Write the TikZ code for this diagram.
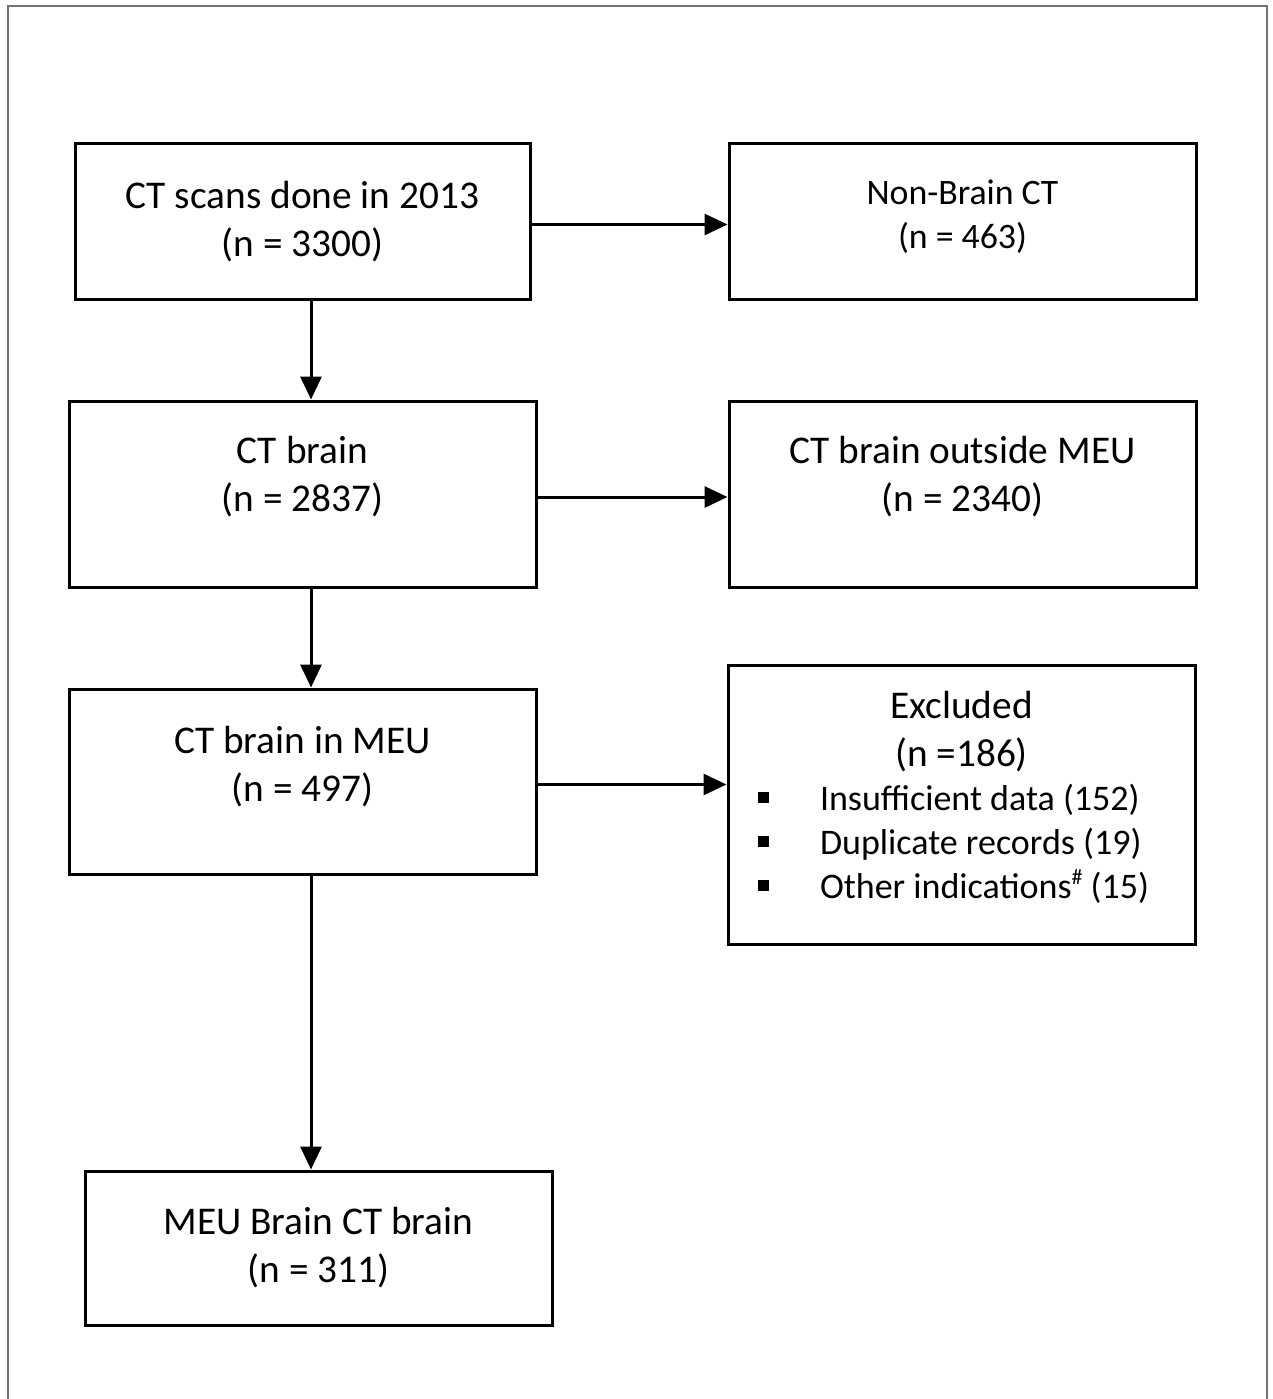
\documentclass[tikz,border=0pt]{standalone}
\usepackage{fontspec}
\setmainfont{Carlito}
\usetikzlibrary{positioning,arrows.meta}

% invisible strut that lifts the text inside a box
\newcommand{\liftby}[1]{\rule[-#1]{0pt}{0pt}}
\newcommand{\sqbullet}{\hspace*{16.5pt}\rule[7pt]{11pt}{11pt}\hspace*{51pt}}

\begin{document}
\begin{tikzpicture}[x=1pt,y=-1pt,>={Triangle[length=23pt,width=21pt]},on grid,
  box/.style={draw,line width=3pt,minimum width=467pt,inner sep=0pt,align=center,
    font=\fontsize{39.3}{48}\selectfont},
  link/.style={->,line width=3pt}]
  \useasboundingbox (0,0) rectangle (1273,1399);
  \draw[black!55,line width=2pt] (8,1410) -- (8,6) -- (1267,6) -- (1267,1410);

  \node[box,minimum width=455pt,minimum height=155pt] (scans) at (302.5,221.5)
    {CT scans done in 2013\\(n = 3300)};
  \node[box,minimum height=155pt,font=\fontsize{35.8}{44}\selectfont] (nonbrain) [right=660pt of scans]
    {Non-Brain CT\\(n = 463)\liftby{15pt}};
  \node[box,minimum height=186pt] (brain) [below=272.5pt of scans]
    {CT brain\\(n = 2837)\liftby{40pt}};
  \node[box,minimum height=186pt] (outside) [right=660pt of brain]
    {CT brain outside MEU\\(n = 2340)\liftby{40pt}};
  \node[box,minimum height=185pt] (inmeu) [below=287.5pt of brain]
    {CT brain in MEU\\(n = 497)\liftby{36pt}};
  \node[box,minimum height=279pt,text width=440pt,align=none] (excl) at (961.5,804.5)
    {\centering Excluded\\(n =186)\par
     \raggedright\fontsize{36}{44}\selectfont
     \sqbullet Insufficient data (152)\\
     \sqbullet Duplicate records (19)\\
     \sqbullet Other indications\raisebox{14pt}{\fontsize{22}{22}\selectfont\#} (15)\liftby{20pt}\par};
  \node[box,minimum height=154pt] (final) at (318.5,1248)
    {MEU Brain CT brain\\(n = 311)};

  \coordinate (spine) at (311,0);
  \draw[link] ([yshift=-3pt]scans.east) -- ([yshift=-3pt]nonbrain.west);
  \draw[link] (scans.south -| spine) -- (brain.north -| spine);
  \draw[link] ([yshift=-3pt]brain.east) -- ([yshift=-3pt]outside.west);
  \draw[link] (brain.south -| spine) -- (inmeu.north -| spine);
  \draw[link] ([yshift=-3pt]inmeu.east) -- ([yshift=-3pt]inmeu.east -| excl.west);
  \draw[link] (inmeu.south -| spine) -- (final.north -| spine);
\end{tikzpicture}
\end{document}
